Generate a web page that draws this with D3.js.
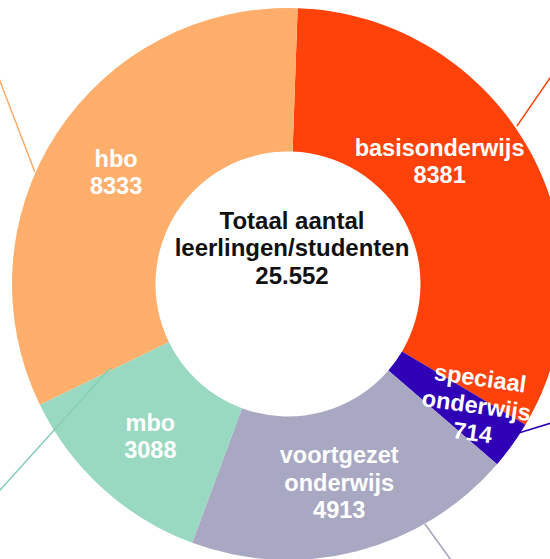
<!DOCTYPE html>
<html>
<head>
<meta charset="utf-8">
<script src="https://cdn.jsdelivr.net/npm/d3@7"></script>
<style>
  body { margin: 0; background: #fff; }
  svg { display: block; }
</style>
</head>
<body>
<script>
// data
const categories = ["basisonderwijs", "speciaal onderwijs", "voortgezet onderwijs", "mbo", "hbo"];
const values = [8381, 714, 4913, 3088, 8333];
const colors = ["#ff410a", "#2f00b5", "#a8a8c2", "#99d9c1", "#ffae6c"];
const lineColors = ["#ff3c00", "#2a00b0", "#a3a3bd", "#86cfb1", "#ffa863"];
const centerLines = ["Totaal aantal", "leerlingen/studenten", "25.552"];

const W = 550, H = 559;
const cx = 288, cy = 284, R = 276, R0 = 132.5;
const rad = Math.PI / 180;
const rot = 2 * rad;

const data = categories.map((c, i) => ({ name: c, value: values[i] }));

const color = d3.scaleOrdinal().domain(categories).range(colors);
const lineColor = d3.scaleOrdinal().domain(categories).range(lineColors);

const svg = d3.select("body").append("svg")
  .attr("width", W)
  .attr("height", H);

const g = svg.append("g").attr("transform", `translate(${cx},${cy})`);

const pie = d3.pie().sort(null).value(d => d.value)
  .startAngle(rot).endAngle(rot + 2 * Math.PI);
const arc = d3.arc().innerRadius(R0).outerRadius(R);
const arcs = pie(data);

g.selectAll("path.slice")
  .data(arcs)
  .join("path")
  .attr("class", "slice")
  .attr("d", arc)
  .attr("fill", d => color(d.data.name));

// connector lines running to labels outside the visible area (polar: degrees, radius)
const leaders = [
  { name: "basisonderwijs", from: [55.4, 278], to: [50.2, 367] },
  { name: "speciaal onderwijs", from: [123, 274], to: [114, 320] },
  { name: "voortgezet onderwijs", from: [150.3, 276], to: [149.2, 336] },
  { name: "mbo", from: [244.7, 197], to: [233.9, 369] },
  { name: "hbo", from: [293.9, 277], to: [306.3, 363] }
];
const px = p => p[1] * Math.sin(p[0] * rad);
const py = p => -p[1] * Math.cos(p[0] * rad);

g.selectAll("line.leader")
  .data(leaders)
  .join("line")
  .attr("class", "leader")
  .attr("x1", d => px(d.from)).attr("y1", d => py(d.from))
  .attr("x2", d => px(d.to)).attr("y2", d => py(d.to))
  .attr("stroke", d => lineColor(d.name))
  .attr("stroke-width", 1.5);

// slice labels
const fontSize = 23.5, lh = 27.5;
arcs.forEach(d => {
  const lines = d.data.name.split(" ").concat([String(d.data.value)]);
  const small = d.data.value < 1000;
  let a = (d.startAngle + d.endAngle) / 2 - (small ? 3 * rad : 0);
  let r = small ? 224 : 205;
  const t = g.append("text")
    .attr("text-anchor", "middle")
    .attr("fill", "#fff")
    .style("font-family", "'Liberation Sans', Arial, sans-serif")
    .style("font-weight", "bold")
    .style("font-size", fontSize + "px");
  t.selectAll("tspan")
    .data(lines)
    .join("tspan")
    .attr("x", 0)
    .attr("y", (s, i) => (i - (lines.length - 1) / 2) * lh + 8.4)
    .text(s => s);
  const w = t.node().getBBox().width;
  // keep the label inside the drawing, sliding it along the ring
  if (!small && cx + r * Math.sin(a) + w / 2 > W - 25) {
    r = 195;
    while (cx + r * Math.sin(a) + w / 2 > W - 25 && a > 0) a -= 0.005;
  }
  const x = r * Math.sin(a), y = -r * Math.cos(a);
  t.attr("transform", `translate(${x},${y})` + (small ? " rotate(8)" : ""));
});

// center text
g.append("text")
  .attr("text-anchor", "middle")
  .attr("fill", "#111")
  .style("font-family", "'Liberation Sans', Arial, sans-serif")
  .style("font-weight", "bold")
  .style("font-size", "24px")
  .selectAll("tspan")
  .data(centerLines)
  .join("tspan")
  .attr("x", 4)
  .attr("y", (s, i) => -28 + (i - 1) * 27.5)
  .text(s => s);
</script>
</body>
</html>
